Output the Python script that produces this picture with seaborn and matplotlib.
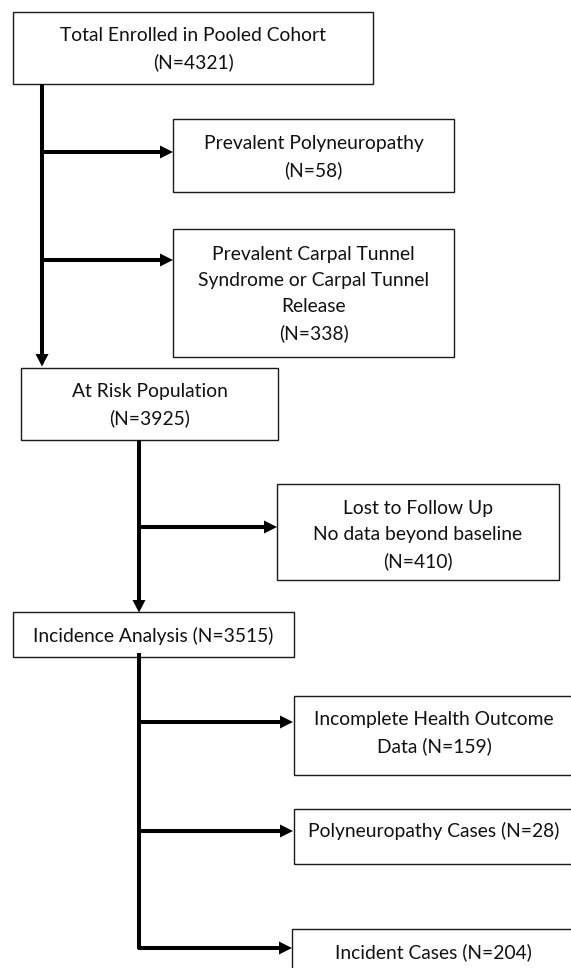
import matplotlib
matplotlib.use("Agg")
import matplotlib.pyplot as plt
from matplotlib.patches import Rectangle, Polygon
import seaborn as sns
import pandas as pd

# ---- data ----
stages = [
    "Total Enrolled in Pooled Cohort",
    "Prevalent Polyneuropathy",
    "Prevalent Carpal Tunnel\nSyndrome or Carpal Tunnel\nRelease",
    "At Risk Population",
    "Lost to Follow Up\nNo data beyond baseline",
    "Incidence Analysis",
    "Incomplete Health Outcome\nData",
    "Polyneuropathy Cases",
    "Incident Cases",
]
counts = [4321, 58, 338, 3925, 410, 3515, 159, 28, 204]
# how the count is appended: newline or same line
count_sep = ["\n", "\n", "\n", "\n", "\n", " ", " ", " ", " "]

# ---- layout (pixels, y downward) ----
boxes = [  # left, top, right, bottom, text-centre-y
    (13, 12, 373, 84, 49),
    (173, 119, 454, 192, 157),
    (173, 229, 454, 357, 294),
    (21, 368, 278, 440, 405),
    (277, 484, 559, 580, 535),
    (13, 612, 294, 657, 636),
    (294, 696, 575, 775, 733),
    (294, 809, 575, 864, 831),
    (292, 929, 575, 1000, 952),
]

W, H = 571, 968
sns.set_theme(style="white")
plt.rcParams["font.family"] = ["Lato", "DejaVu Sans"]

fig = plt.figure(figsize=(W / 100, H / 100), dpi=100)
ax = fig.add_axes([0, 0, 1, 1])
ax.set_xlim(0, W)
ax.set_ylim(H, 0)
ax.axis("off")

LW = 2.9
EDGE = "#1a1a1a"

for (l, t, r, b, ty), s, n, sep in zip(boxes, stages, counts, count_sep):
    ax.add_patch(Rectangle((l, t), r - l, b - t, fill=True, facecolor="white",
                           edgecolor=EDGE, linewidth=1.0, zorder=2))
    cx = (l + min(r, 574)) / 2
    ax.text(cx, ty, f"{s}{sep}(N={n})", ha="center", va="center",
            fontsize=13.9, color="#111111", linespacing=1.62, zorder=3)

# connectors: (list of x, list of y) segments, arrow at end?
segments = [
    ([42, 42], [84, 354], "down"),
    ([42, 160], [152, 152], "right"),
    ([42, 160], [260, 260], "right"),
    ([139, 139], [440, 600], "down"),
    ([139, 264], [527, 527], "right"),
    ([139, 139], [653, 949], None),
    ([139, 280], [722, 722], "right"),
    ([139, 280], [831, 831], "right"),
    ([137.5, 279], [948, 948], "right"),
]
for i, (xs, ys, head) in enumerate(segments):
    df = pd.DataFrame({"x": xs, "y": ys})
    sns.lineplot(data=df, x="x", y="y", ax=ax, sort=False, color="black",
                 linewidth=LW, estimator=None, zorder=4,
                 solid_capstyle="butt")
    if head == "down":
        x, y = xs[-1], ys[-1]
        ax.add_patch(Polygon([(x - 6.5, y), (x + 6.5, y), (x, y + 12.5)],
                             closed=True, color="black", zorder=5, lw=0))
    elif head == "right":
        x, y = xs[-1], ys[-1]
        ax.add_patch(Polygon([(x, y - 6.5), (x, y + 6.5), (x + 13, y)],
                             closed=True, color="black", zorder=5, lw=0))

ax.set_xlim(0, W)
ax.set_ylim(H, 0)
ax.set_xlabel("")
ax.set_ylabel("")
fig.savefig("out.png", dpi=100, facecolor="white")
